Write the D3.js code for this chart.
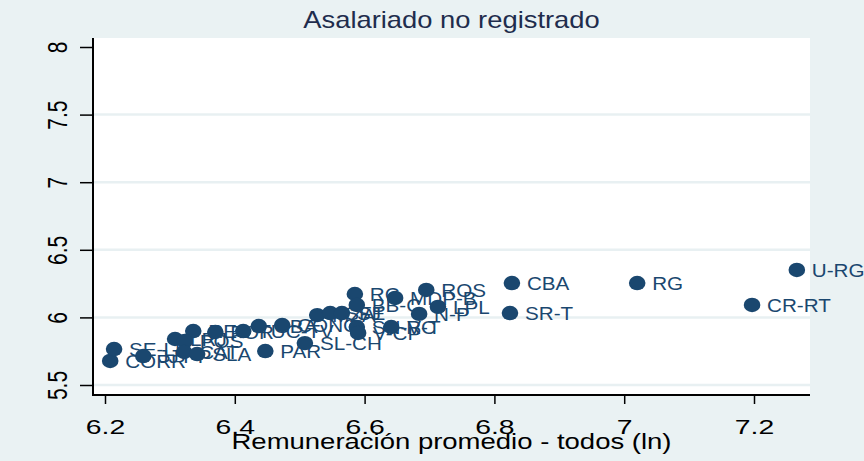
<!DOCTYPE html>
<html>
<head>
<meta charset="utf-8">
<script src="https://cdn.jsdelivr.net/npm/d3@7"></script>
<style>
  html, body { margin: 0; padding: 0; background: #eaf2f3; }
  svg { display: block; font-family: "Liberation Sans", Arial, sans-serif; }
</style>
</head>
<body>
<svg id="chart" width="864" height="461"></svg>
<script>
// aglomerados, in drawing order
const places = ["CORR", "SE-LB", "JJY-P", "LRJ", "RES", "FOR", "POS", "CAT", "SLA", "TUC-TV",
  "GBA", "CONC", "PAR", "SL-CH", "MZA", "SFE", "SJ", "RC", "BB-C", "SN-VC", "V-CP",
  "MDP-B", "ROS", "LPL", "N-P", "R-T", "CBA", "SR-T", "RG", "CR-RT", "U-RG"];
// Remuneración promedio - todos (ln)
const wage = [6.208, 6.214, 6.259, 6.308, 6.336, 6.370, 6.323, 6.322, 6.342, 6.413,
  6.437, 6.473, 6.447, 6.508, 6.527, 6.547, 6.565, 6.585, 6.588, 6.588, 6.590,
  6.647, 6.695, 6.713, 6.684, 6.641, 6.827, 6.824, 7.020, 7.197, 7.266];
// asalariado no registrado (ln)
const informal = [5.678, 5.766, 5.714, 5.840, 5.899, 5.892, 5.825, 5.744, 5.729, 5.899,
  5.936, 5.944, 5.751, 5.810, 6.017, 6.032, 6.032, 6.173, 6.092, 5.929, 5.885,
  6.144, 6.203, 6.078, 6.026, 5.929, 6.254, 6.032, 6.254, 6.092, 6.351];

const xTicks = [6.2, 6.4, 6.6, 6.8, 7, 7.2];
const yTicks = [5.5, 6, 6.5, 7, 7.5, 8];
const yGrid = [5.5, 6, 6.5, 7, 7.5];

const navy = "#1a476f";
const svg = d3.select("#chart");

// plot region
const pL = 93, pR = 810, pT = 38, pB = 395;
const x = d3.scaleLinear().domain([6.2, 7.2]).range([105, 754]);
const y = d3.scaleLinear().domain([5.5, 8]).range([385, 47]);

svg.append("rect").attr("width", 864).attr("height", 461).attr("fill", "#eaf2f3");
svg.append("rect")
  .attr("x", pL).attr("y", pT)
  .attr("width", pR - pL).attr("height", pB - pT)
  .attr("fill", "#fff");

svg.append("g").selectAll("line").data(yGrid).enter().append("line")
  .attr("x1", pL).attr("x2", pR)
  .attr("y1", d => y(d)).attr("y2", d => y(d))
  .attr("stroke", "#e8f0f2").attr("stroke-width", 2.5);

// axes
const fmt = d => String(d);
const yAxis = svg.append("g").attr("transform", `translate(${pL},0)`)
  .call(d3.axisLeft(y).tickValues(yTicks).tickFormat(fmt).tickSize(13).tickSizeOuter(0));
yAxis.select(".domain").remove();
yAxis.selectAll("line").attr("stroke", "#000").attr("stroke-width", 1.5);
yAxis.selectAll("text")
  .attr("x", null).attr("dy", null)
  .attr("transform", "translate(-26,0) scale(1.35,1) rotate(-90)")
  .attr("text-anchor", "middle")
  .attr("font-size", 21).attr("font-family", null).attr("fill", "#000");

const xAxis = svg.append("g").attr("transform", `translate(0,${pB})`)
  .call(d3.axisBottom(x).tickValues(xTicks).tickFormat(fmt).tickSize(9).tickSizeOuter(0));
xAxis.select(".domain").remove();
xAxis.selectAll("line").attr("stroke", "#000").attr("stroke-width", 1.5);
xAxis.selectAll("text")
  .attr("y", null).attr("dy", null)
  .attr("transform", "translate(0,39) scale(1.35,1)")
  .attr("text-anchor", "middle")
  .attr("font-size", 21).attr("font-family", null).attr("fill", "#000");

svg.append("line").attr("x1", pL).attr("x2", pL).attr("y1", pT).attr("y2", pB + 1)
  .attr("stroke", "#000").attr("stroke-width", 2);
svg.append("line").attr("x1", pL - 1).attr("x2", pR).attr("y1", pB).attr("y2", pB)
  .attr("stroke", "#000").attr("stroke-width", 2);

// marker labels first, markers drawn over them
const rows = places.map((p, i) => ({ name: p, wx: wage[i], wy: informal[i] }));

svg.append("g").selectAll("text").data(rows).enter().append("text")
  .attr("transform", d => `translate(${x(d.wx) + 15},${y(d.wy) + 7}) scale(1.18,1)`)
  .attr("font-size", 17.5)
  .attr("fill", navy)
  .text(d => d.name);

svg.append("g").selectAll("ellipse").data(rows).enter().append("ellipse")
  .attr("cx", d => x(d.wx)).attr("cy", d => y(d.wy))
  .attr("rx", 8.3).attr("ry", 7.2)
  .attr("fill", navy);

// titles
svg.append("text")
  .attr("transform", `translate(${(pL + pR) / 2},28) scale(1.19,1)`)
  .attr("text-anchor", "middle").attr("font-size", 23).attr("fill", "#1f2d4d")
  .text("Asalariado no registrado");

svg.append("text")
  .attr("transform", `translate(${(pL + pR) / 2},449) scale(1.25,1)`)
  .attr("text-anchor", "middle").attr("font-size", 22).attr("fill", "#000")
  .text("Remuneración promedio - todos (ln)");
</script>
</body>
</html>
